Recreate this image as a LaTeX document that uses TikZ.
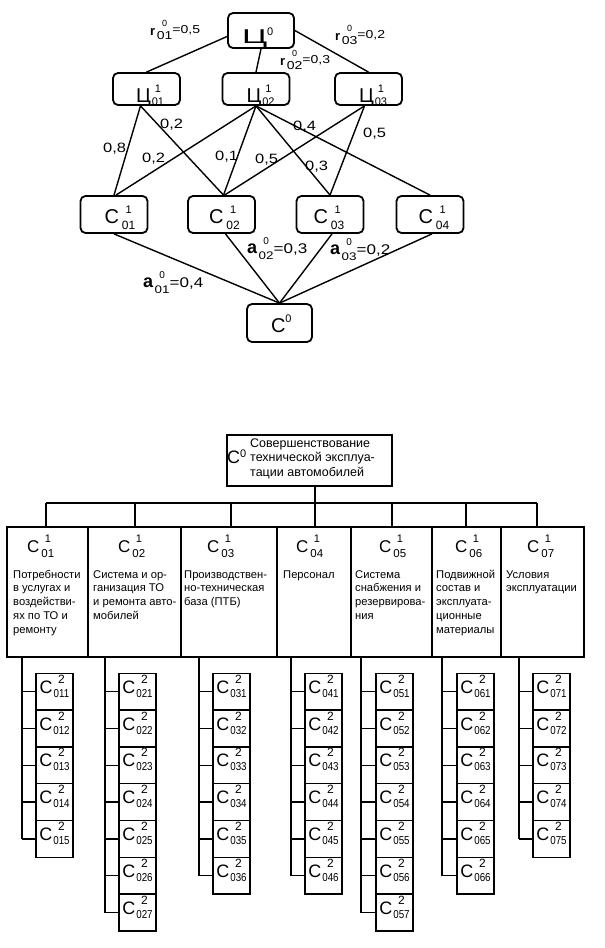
\documentclass[tikz,border=0pt]{standalone}
\usepackage{fontspec}
\usepackage{graphicx}
\setmainfont{Liberation Sans}
\newfontfamily\widefont{Liberation Sans}[FakeStretch=1.22]
\usetikzlibrary{calc}
\newcommand\supsub[4]{\setbox0\hbox{#2}\rlap{\hbox to\wd0{\hss\raisebox{#3}{#1}\hss}}\raisebox{-#4}{\box0}}
\newcommand\fs[1]{\fontsize{#1}{#1}\selectfont}
\newcommand\qn[1]{{\fs{20}Ц}\kern1pt\supsub{\fs{11}1}{\fs{11}#1}{10pt}{3pt}}
\newcommand\cn[1]{{\fs{20}С}\kern3pt\supsub{\fs{11}1}{\fs{12}#1}{10pt}{6pt}}
\newcommand\hn[1]{{\fs{17}С}\kern2pt\supsub{\fs{11}1}{\fs{11.5}#1}{10pt}{5pt}}
\newcommand\lvt[1]{{\fs{18}С}\kern1pt\supsub{\fs{12}2}{\scalebox{0.85}[1]{\fs{11.5}#1}}{10pt}{4pt}}
\newcommand\rlab[2]{{\fs{13}\bfseries r}\kern1.5pt\supsub{\fs{9}0}{\widefont\fs{11.5}#1}{8.5pt}{4pt}\raisebox{2pt}{\widefont\fs{11.5}=#2}}
\newcommand\alab[2]{{\fs{18}\bfseries a}\kern1.5pt\supsub{\fs{10}0}{\widefont\fs{11}#1}{8.5pt}{6pt}{\widefont\fs{14}=#2}}
\begin{document}
\begin{tikzpicture}[x=1pt,y=-1pt,
 tbox/.style={draw, line width=1.8pt, rounded corners=5pt, inner sep=0pt, align=left},
 tedge/.style={line width=1.4pt},
 elab/.style={inner sep=0pt, anchor=base west, font=\widefont\fontsize{13.5}{13.5}\selectfont},
 blab/.style={inner sep=0pt, anchor=base west},
 desc/.style={blab, font=\fontsize{11.2}{13.75}\selectfont},
 tl/.style={line width=1.5pt},
 l1box/.style={draw, line width=1.5pt, minimum height=130pt, inner sep=0pt},
 l2box/.style={draw, line width=1.5pt, minimum width=37pt, minimum height=36.8pt, inner sep=0pt, text height=20pt, text depth=16.8pt},
 c0box/.style={draw, line width=1.5pt, minimum width=165pt, minimum height=51pt, inner sep=0pt}]
\useasboundingbox[fill=white] (0,0) rectangle (605,948);

% ---------- top graph ----------
\node[tbox, text width=66pt, text height=30pt, text depth=5pt] (q0) at (261,30.5)
  {\hspace*{14pt}\scalebox{1.7}[1]{\fs{20}Ц}\raisebox{8pt}{\fs{11}0}};
\node[tbox, text width=67pt, text height=29pt, text depth=3pt] (q01) at (146.5,89) {\hspace*{23pt}\qn{01}};
\node[tbox, text width=67pt, text height=29pt, text depth=3pt] (q02) at (256,89) {\hspace*{24pt}\qn{02}};
\node[tbox, text width=67pt, text height=29pt, text depth=3pt] (q03) at (368.5,89) {\hspace*{24pt}\qn{03}};

\node[tbox, text width=67pt, text height=27.5pt, text depth=9.5pt] (c01) at (114,214.5) {\hspace*{24pt}\cn{01}};
\node[tbox, text width=67pt, text height=27.5pt, text depth=9.5pt] (c02) at (221.5,214.5) {\hspace*{21pt}\cn{02}};
\node[tbox, text width=67pt, text height=27.5pt, text depth=9.5pt] (c03) at (330,214.5) {\hspace*{17pt}\cn{03}};
\node[tbox, text width=67pt, text height=27.5pt, text depth=9.5pt] (c04) at (430,214.5) {\hspace*{22pt}\cn{04}};

\node[tbox, text width=65pt, text height=28pt, text depth=10pt] (c0) at (279.5,323)
  {\hspace*{24pt}{\fs{20}С}\raisebox{10pt}{\fs{11}0}};

\draw[tedge] (q0.190) -- (q01.north);
\draw[tedge] (q0.south) -- (q02.north);
\draw[tedge] (q0.east) -- (q03.north);

\draw[tedge] ($(q01.south)+(-6,0)$) -- (c01.north);
\draw[tedge] ($(q01.south)+(-6,0)$) -- ($(c02.north)+(2,0)$);
\draw[tedge] (q02.south) -- ($(c01.north)+(2,0)$);
\draw[tedge] (q02.south) -- ($(c02.north)+(2,0)$);
\draw[tedge] (q02.south) -- (c03.north);
\draw[tedge] (q02.south) -- (c04.north);
\draw[tedge] ($(q03.south)+(-4,0)$) -- ($(c02.north)+(3,0)$);
\draw[tedge] ($(q03.south)+(-4,0)$) -- (c03.north);

\draw[tedge] (c01.south) -- (c0.north);
\draw[tedge] ($(c02.south)+(4,0)$) -- (c0.north);
\draw[tedge] ($(c03.south)+(2,0)$) -- (c0.north);
\draw[tedge] ($(c04.south)+(2,0)$) -- (c0.north);

\node[blab] (r01) at (150,35) {\rlab{01}{0,5}};
\node[blab] (r02) at (280,65) {\rlab{02}{0,3}};
\node[blab] (r03) at (335,40) {\rlab{03}{0,2}};

\node[elab] (e1) at (103,152) {0,8};
\node[elab] (e2) at (160,128) {0,2};
\node[elab] (e3) at (142,162) {0,2};
\node[elab] (e4) at (215,160) {0,1};
\node[elab] (e5) at (255,163) {0,5};
\node[elab] (e6) at (305,170) {0,3};
\node[elab] (e7) at (293,130) {0,4};
\node[elab] (e8) at (363,137) {0,5};

\node[blab] (a01) at (143,287) {\alab{01}{0,4}};
\node[blab] (a02) at (247,253) {\alab{02}{0,3}};
\node[blab] (a03) at (330,254) {\alab{03}{0,2}};

% ---------- bottom tree ----------
\node[c0box] (C0b) at (309.5,460.5) {};
\node[blab] (C0l) at (227,463) {{\fs{18}С}\raisebox{6pt}{\fs{11}0}};
\node[blab, font=\fontsize{12.5}{14.5}\selectfont] (C0t) at (250,447)
  {\begin{tabular}[t]{@{}l@{}}Совершенствование\\технической эксплуа-\\тации автомобилей\end{tabular}};

\foreach \i/\a/\bb in {1/7/88, 2/88/181, 3/181/277, 4/277/351, 5/351/432, 6/432/501, 7/501/584}
  \node[l1box, minimum width={\bb-\a}] (L\i) at ({(\a+\bb)/2},592) {};

\foreach \i/\x in {1/27, 2/118, 3/207, 4/296, 5/379, 6/455, 7/527}
  \node[blab] (H\i) at (\x,552) {\hn{0\i}};

\node[desc] (D1) at (13,578) {\begin{tabular}[t]{@{}l@{}}Потребности\\в услугах и\\воздействи-\\ях по ТО и\\ремонту\end{tabular}};
\node[desc] (D2) at (93,578) {\begin{tabular}[t]{@{}l@{}}Система и ор-\\ганизация ТО\\и ремонта авто-\\мобилей\end{tabular}};
\node[desc] (D3) at (184,578) {\begin{tabular}[t]{@{}l@{}}Производствен-\\но-техническая\\база (ПТБ)\end{tabular}};
\node[desc] (D4) at (283,578) {\begin{tabular}[t]{@{}l@{}}Персонал\end{tabular}};
\node[desc] (D5) at (355,578) {\begin{tabular}[t]{@{}l@{}}Система\\снабжения и\\резервирова-\\ния\end{tabular}};
\node[desc] (D6) at (436,578) {\begin{tabular}[t]{@{}l@{}}Подвижной\\состав и\\эксплуата-\\ционные\\материалы\end{tabular}};
\node[desc] (D7) at (506,578) {\begin{tabular}[t]{@{}l@{}}Условия\\эксплуатации\end{tabular}};

\foreach \i/\x in {1/46, 2/135, 3/231, 4/315, 5/392, 6/466, 7/537}
  \coordinate (d\i) at (\x,503);
\draw[tl] (d4 |- C0b.south) -- (d4);
\draw[tl] (d1) -- (d7);
\foreach \i in {1,...,7}
  \draw[tl] (d\i) -- (d\i |- L\i.north);

\foreach \i/\v/\b/\n in {1/22/36/5, 2/105/119/7, 3/199/213/6, 4/291/305/6, 5/361/376/7, 6/442/457/6, 7/519/533/5} {
  \coordinate (vx\i) at (\v,0);
  \foreach \k in {1,...,\n} {
    \node[l2box] (b\i\k) at ({\b+18.5},{673.3+36.8*(\k-0.5)}) {\lvt{0\i\k}};
    \draw[tl] (b\i\k.west) -- (b\i\k.west -| vx\i);
  }
  \draw[tl] (vx\i |- L\i.south) -- (vx\i |- b\i\n.west);
}
\end{tikzpicture}
\end{document}
